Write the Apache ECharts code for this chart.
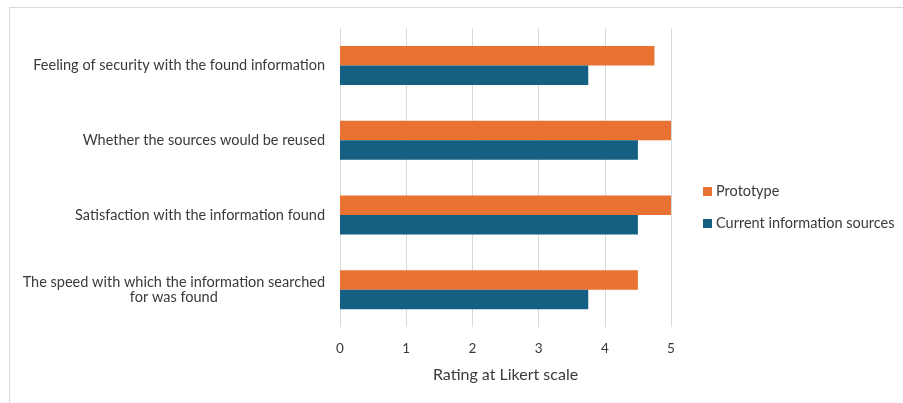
<!DOCTYPE html>
<html>
<head>
<meta charset="utf-8">
<script src="https://cdn.jsdelivr.net/npm/echarts@6/dist/echarts.min.js"></script>
<style>
  html, body { margin: 0; padding: 0; background: #fff; }
  #frame { position: absolute; left: 9px; top: 7px; width: 894px; height: 396px;
           border-top: 1px solid #d9d9d9; border-left: 1px solid #d9d9d9; }
  #chart { position: absolute; left: 0; top: 0; width: 903px; height: 403px; }
</style>
</head>
<body>
<div id="frame"></div>
<div id="chart"></div>
<script>
// Survey questions (top to bottom)
const categories = [
  'Feeling of security with the found information',
  'Whether the sources would be reused',
  'Satisfaction with the information found',
  'The speed with which the information searched\nfor was found'
];
const seriesNames = ['Prototype', 'Current information sources'];
const prototypeValues = [4.75, 5, 5, 4.5];
const currentValues = [3.75, 4.5, 4.5, 3.75];
const xTicks = [0, 1, 2, 3, 4, 5];

const textColor = '#3a3a3a';
const fontFamily = 'Lato, "Open Sans", sans-serif';

const chart = echarts.init(document.getElementById('chart'), null, { renderer: 'canvas' });
chart.setOption({
  animation: false,
  textStyle: { fontFamily: fontFamily },
  grid: { left: 340, right: 232, top: 28, bottom: 76, containLabel: false },
  legend: {
    orient: 'vertical',
    left: 703,
    top: 184,
    padding: 0,
    icon: 'rect',
    itemWidth: 9,
    itemHeight: 9,
    itemGap: 17,
    textStyle: { color: textColor, fontSize: 14.5, fontFamily: fontFamily, padding: [0, 0, 0, -1] },
    data: seriesNames
  },
  xAxis: {
    type: 'value',
    min: xTicks[0],
    max: xTicks[xTicks.length - 1],
    interval: 1,
    name: 'Rating at Likert scale',
    nameLocation: 'middle',
    nameGap: 40,
    nameTextStyle: { color: textColor, fontSize: 16, fontFamily: fontFamily },
    axisLine: { show: false },
    axisTick: { show: false },
    axisLabel: { color: textColor, fontSize: 13.5, margin: 15 },
    splitLine: { show: true, lineStyle: { color: '#d9d9d9', width: 1 } }
  },
  yAxis: {
    type: 'category',
    inverse: true,
    data: categories,
    axisLine: { show: false },
    axisTick: { show: false },
    axisLabel: {
      color: textColor,
      fontSize: 14.5,
      margin: 15,
      lineHeight: 15,
      formatter: function (v) {
        return v.split('\n').map(function (l) { return '{c|' + l + '}'; }).join('\n');
      },
      rich: { c: { align: 'center', color: textColor, fontSize: 14.5, lineHeight: 15, fontFamily: fontFamily } }
    }
  },
  series: [
    {
      name: seriesNames[0],
      type: 'bar',
      data: prototypeValues,
      itemStyle: { color: '#E97132' },
      barWidth: 19.5,
      barGap: '0%'
    },
    {
      name: seriesNames[1],
      type: 'bar',
      data: currentValues,
      itemStyle: { color: '#156082' },
      barWidth: 19.5,
      barGap: '0%'
    }
  ]
});
</script>
</body>
</html>
